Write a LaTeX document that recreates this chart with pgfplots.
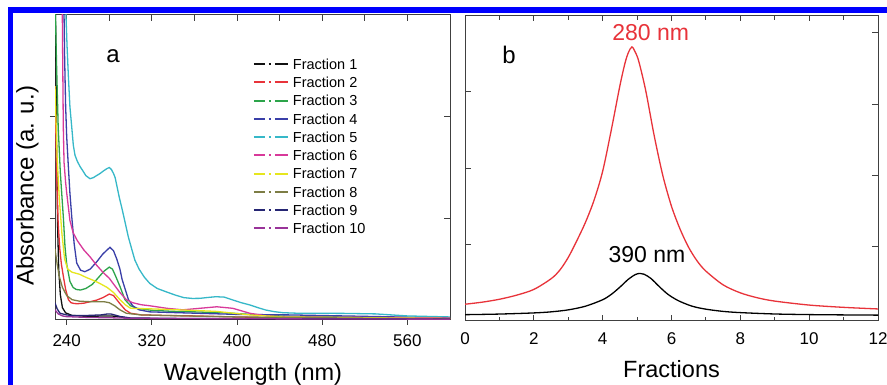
\documentclass[border=0pt]{standalone}
\usepackage{pgfplots}
\pgfplotsset{compat=1.18}
\usepackage{fontspec}
\setmainfont{Liberation Sans}
\definecolor{cA}{HTML}{111111}
\definecolor{cB}{HTML}{E8333A}
\definecolor{cC}{HTML}{2CA44A}
\definecolor{cD}{HTML}{3A3FA8}
\definecolor{cE}{HTML}{36B8C8}
\definecolor{cF}{HTML}{D8399A}
\definecolor{cG}{HTML}{E6E61E}
\definecolor{cH}{HTML}{7D7D45}
\definecolor{cI}{HTML}{262673}
\definecolor{cJ}{HTML}{993399}
\definecolor{axc}{HTML}{404040}
\begin{document}
\begin{tikzpicture}
\useasboundingbox (0,0) rectangle (887pt,385pt);
\fill[white] (0,0) rectangle (887pt,385pt);
% ---------- panel a : inner ticks (top/right)
\begin{axis}[
  at={(55pt,65pt)}, anchor=south west, scale only axis, width=395pt, height=305pt,
  xmin=229, xmax=600, ymin=0, ymax=3,
  xtick={240,280,...,600}, xticklabels={}, xtick pos=right,
  ytick={1,2}, yticklabels={}, ytick pos=right,
  tick align=inside, major tick length=6pt,
  axis line style={line width=1pt, axc}, tick style={line width=1pt, axc}]
\end{axis}
% ---------- panel a : data
\begin{axis}[
  at={(55pt,65pt)}, anchor=south west, scale only axis, width=395pt, height=305pt,
  xmin=229, xmax=600, ymin=0, ymax=3,
  xtick={240,320,...,560}, xtick pos=left,
  ytick={1,2}, yticklabels={}, ytick pos=left,
  tick align=outside, major tick length=5pt,
  axis line style={line width=1pt, axc}, tick style={line width=1pt, axc},
  tick label style={font=\fontsize{17}{20}\selectfont},
  /pgf/number format/assume math mode=true,
  xticklabel style={yshift=-6pt},
  every axis plot/.append style={line width=1.3pt},
  legend cell align=left,
  legend image code/.code={\draw[#1, line width=2pt, dash pattern=on 11pt off 4pt on 2pt off 4pt on 13pt off 10pt] (0pt,0pt) -- (34pt,0pt);},
  legend style={draw=none, fill=none, at={(0.501,0.863)}, anchor=north west,
    inner sep=0pt, outer sep=0pt, column sep=4pt, row sep=3.76pt,
    font=\fontsize{14.5}{16}\selectfont,
    nodes={inner sep=0pt, text height=12.5pt, text depth=2pt}},
]
\addplot[cA] coordinates {(229,3.6) (229.8,2.6) (230.6,1.6) (231.5,0.9) (232.5,0.5) (234,0.25) (236,0.12) (239,0.07) (245,0.045) (260,0.035) (275,0.04) (282,0.04) (290,0.03) (300,0.015) (350,0.01) (450,0.008) (600,0.005)};
\addlegendentry{Fraction 1}
\addplot[cB] coordinates {(229,2.3) (230.6,1.4) (232,0.95) (233.5,0.7) (235,0.55) (237,0.42) (239,0.3) (241.6,0.2) (244,0.17) (247,0.162) (250,0.16) (256,0.165) (262,0.18) (268,0.195) (274,0.22) (280,0.255) (284,0.24) (287,0.2) (290,0.16) (295,0.1) (300,0.066) (310,0.05) (330,0.045) (360,0.04) (400,0.03) (450,0.02) (600,0.01)};
\addlegendentry{Fraction 2}
\addplot[cC] coordinates {(229,3.2) (230.5,2.5) (232,1.9) (234,1.45) (236.9,1.0) (238.4,0.72) (240,0.55) (243,0.38) (246,0.32) (249,0.3) (253,0.295) (258,0.31) (264,0.35) (270,0.42) (275,0.48) (280,0.52) (283,0.5) (286,0.43) (290,0.33) (294.7,0.2) (300,0.14) (305.6,0.115) (320,0.095) (340,0.085) (360,0.08) (390,0.07) (420,0.05) (450,0.035) (600,0.02)};
\addlegendentry{Fraction 3}
\addplot[cD] coordinates {(237,3.4) (238,2.6) (239,2.1) (240,1.8) (241.6,1.5) (243,1.25) (244.7,1.02) (247,0.75) (249.4,0.56) (253,0.49) (257,0.475) (262,0.5) (268,0.57) (274,0.65) (280.6,0.715) (284,0.68) (287,0.6) (290,0.5) (292,0.4) (295,0.3) (298,0.2) (302,0.14) (308,0.1) (318,0.08) (350,0.07) (400,0.055) (450,0.05) (600,0.02)};
\addlegendentry{Fraction 4}
\addplot[cE] coordinates {(238,3.8) (239.3,3.0) (240.3,2.7) (241.6,2.39) (243,2.1) (244.7,1.9) (246.2,1.72) (247.8,1.62) (250,1.56) (252.5,1.51) (255,1.47) (258,1.42) (261.8,1.39) (265,1.40) (268,1.42) (271.2,1.44) (275,1.47) (278,1.49) (280,1.50) (282,1.48) (284,1.44) (285.5,1.40) (287.5,1.30) (289.5,1.20) (291.6,1.11) (294,1.0) (297.8,0.82) (301,0.7) (304,0.59) (308,0.5) (313,0.42) (318,0.36) (325,0.31) (334,0.275) (342,0.245) (350,0.22) (358,0.212) (365,0.213) (373,0.222) (380,0.229) (388,0.225) (396,0.197) (404,0.17) (412,0.148) (420,0.12) (427,0.098) (435,0.082) (443,0.072) (458,0.066) (480,0.066) (500,0.065) (530,0.06) (545,0.05) (560,0.04) (580,0.035) (600,0.03)};
\addlegendentry{Fraction 5}
\addplot[cF] coordinates {(235.5,3.5) (236.2,2.6) (236.8,1.9) (237.5,1.55) (239,1.35) (240,1.25) (243,0.98) (246,0.86) (250,0.78) (256,0.69) (262,0.62) (268,0.54) (274,0.47) (280,0.41) (285,0.34) (290,0.27) (296,0.2) (302,0.17) (310,0.15) (318,0.14) (334,0.115) (349,0.1) (365,0.115) (381,0.13) (396,0.115) (412,0.066) (428,0.04) (450,0.03) (600,0.02)};
\addlegendentry{Fraction 6}
\addplot[cG] coordinates {(229,2.3) (231,1.6) (233,1.2) (235.5,0.85) (238,0.6) (241,0.5) (245,0.47) (252,0.45) (258,0.42) (265,0.39) (271,0.36) (278,0.32) (284,0.27) (290,0.2) (295,0.15) (300,0.115) (318,0.11) (350,0.098) (380,0.085) (412,0.05) (443,0.03) (600,0.015)};
\addlegendentry{Fraction 7}
\addplot[cH] coordinates {(229,0.7) (231,0.55) (233,0.43) (236,0.32) (240,0.24) (245,0.2) (252,0.185) (262,0.18) (275,0.18) (280,0.17) (285,0.14) (290,0.1) (296,0.066) (310,0.05) (350,0.04) (400,0.03) (600,0.01)};
\addlegendentry{Fraction 8}
\addplot[cI] coordinates {(229,0.17) (231,0.11) (233.7,0.066) (240,0.05) (246,0.043) (260,0.045) (272,0.05) (278,0.059) (282,0.058) (290,0.035) (300,0.02) (350,0.015) (600,0.01)};
\addlegendentry{Fraction 9}
\addplot[cJ] coordinates {(229,0.1) (232,0.06) (236,0.04) (240,0.033) (260,0.025) (280,0.022) (300,0.017) (400,0.012) (600,0.008)};
\addlegendentry{Fraction 10}
\end{axis}
% ---------- panel b : right ticks
\begin{axis}[
  at={(465pt,64.3pt)}, anchor=south west, scale only axis, width=413pt, height=305pt,
  xmin=0, xmax=12, ymin=0, ymax=4,
  xtick=\empty, ytick={0.97,1.905,2.84,3.775}, yticklabels={}, ytick pos=right,
  tick align=inside, major tick length=6pt,
  axis line style={line width=1pt, axc}, tick style={line width=1pt, axc}]
\end{axis}
% ---------- panel b : data
\begin{axis}[
  at={(465pt,64.3pt)}, anchor=south west, scale only axis, width=413pt, height=305pt,
  xmin=0, xmax=12, ymin=0, ymax=4,
  xtick={0,2,...,12}, minor xtick={1,3,...,11}, xtick pos=both,
  ytick={1,2,3}, yticklabels={}, ytick pos=left,
  tick align=inside, major tick length=5.7pt, minor tick length=4pt,
  axis line style={line width=1pt, axc}, tick style={line width=1pt, axc},
  tick label style={font=\fontsize{17}{20}\selectfont},
  /pgf/number format/assume math mode=true,
  xticklabel style={yshift=-8.5pt},
  every axis plot/.append style={line width=1.3pt},
]
\addplot[cB, smooth] coordinates {(0,0.216) (0.5,0.243) (1,0.281) (1.5,0.335) (2,0.41) (2.5,0.55) (2.75,0.66) (3,0.83) (3.25,1.05) (3.5,1.29) (3.75,1.58) (4,1.96) (4.25,2.5) (4.5,3.08) (4.65,3.38) (4.75,3.52) (4.85,3.59) (4.95,3.52) (5.05,3.40) (5.25,3.02) (5.5,2.42) (5.75,1.90) (6,1.50) (6.25,1.20) (6.5,0.96) (6.75,0.78) (7,0.65) (7.5,0.47) (8,0.365) (8.5,0.30) (9,0.257) (10,0.205) (11,0.175) (12,0.154)};
\addplot[black, smooth] coordinates {(0,0.079) (1,0.087) (2,0.102) (2.5,0.116) (3,0.142) (3.5,0.19) (4,0.275) (4.25,0.345) (4.5,0.44) (4.75,0.545) (4.95,0.605) (5.08,0.62) (5.2,0.61) (5.4,0.555) (5.65,0.445) (5.9,0.345) (6.2,0.262) (6.6,0.19) (7,0.151) (7.5,0.122) (8,0.106) (9,0.088) (10,0.08) (11,0.076) (12,0.073)};
\end{axis}
% ---------- texts
\node[font=\fontsize{23.5}{28}\selectfont] at (253pt,11pt) {Wavelength (nm)};
\node[font=\fontsize{23.5}{28}\selectfont] at (671.5pt,16pt) {Fractions};
\node[font=\fontsize{24}{28}\selectfont, rotate=90] at (27.5pt,199.2pt) {Absorbance (a. u.)};
\node[font=\fontsize{24}{28}\selectfont] at (113pt,329.2pt) {a};
\node[font=\fontsize{24}{28}\selectfont] at (509pt,330pt) {b};
\node[font=\fontsize{23}{28}\selectfont, text=cB] at (650.7pt,352.5pt) {280 nm};
\node[font=\fontsize{23}{28}\selectfont] at (647pt,130pt) {390 nm};
% ---------- blue frame
\draw[blue, line width=5.3pt, line join=miter] (10.5pt,-5pt) -- (10.5pt,375pt) -- (892pt,375pt);
\end{tikzpicture}
\end{document}
